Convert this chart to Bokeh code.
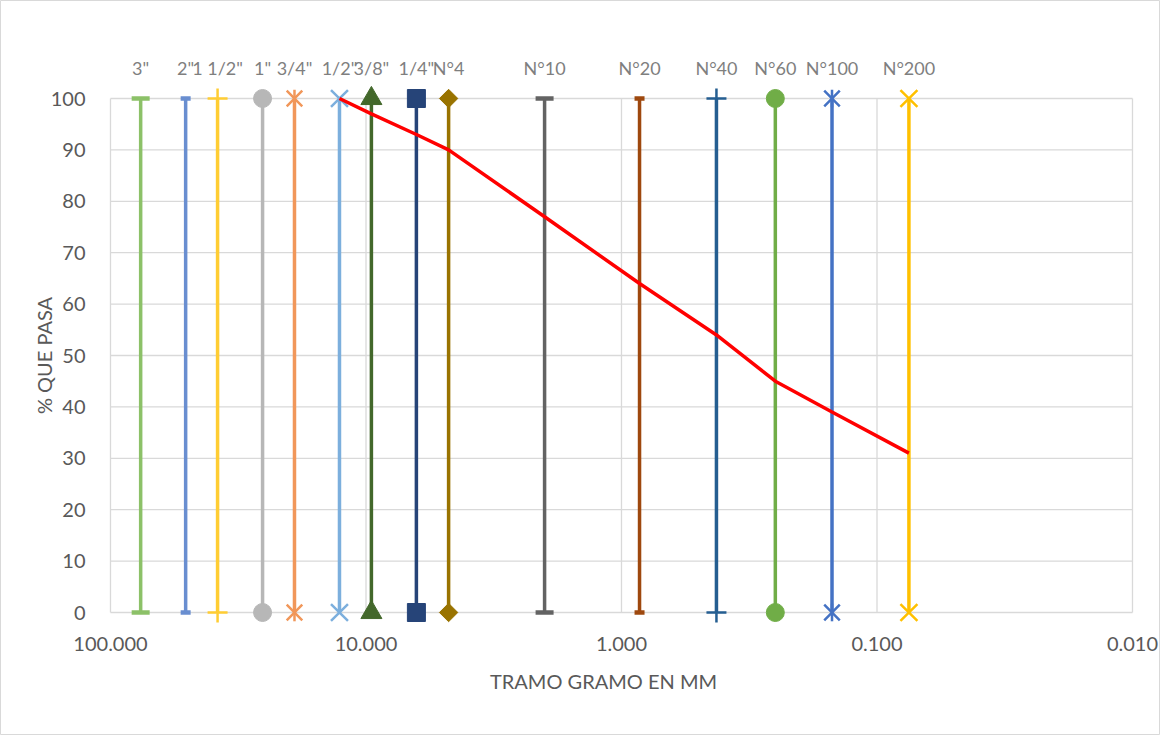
import math
from bokeh.plotting import figure
from bokeh.models import Range1d, Label
from bokeh.core.properties import value
from bokeh.embed import file_html
from bokeh.resources import INLINE

# ---------------- data ----------------
sieve_labels = ['3"', '2"', '1 1/2"', '1"', '3/4"', '1/2"', '3/8"', '1/4"',
                'N°4', 'N°10', 'N°20', 'N°40', 'N°60', 'N°100', 'N°200']
sieve_mm = [76.2, 50.8, 38.1, 25.4, 19.05, 12.7, 9.525, 6.35,
            4.75, 2.0, 0.85, 0.425, 0.25, 0.15, 0.075]
sieve_span = [0, 100]          # each sieve line goes from 0 % to 100 %

curve_mm = [12.7, 9.525, 6.35, 4.75, 2.0, 0.85, 0.425, 0.25, 0.15, 0.075]
curve_pasa = [100, 97, 93, 90, 77, 64, 54, 45, 39, 31]

x_ticks = [100, 10, 1, 0.1, 0.01]
x_tick_labels = ["100.000", "10.000", "1.000", "0.100", "0.010"]
y_ticks = [0, 10, 20, 30, 40, 50, 60, 70, 80, 90, 100]
y_tick_labels = [str(v) for v in y_ticks]

# ---------------- styles ----------------
colors = ["#8CC168", "#698ED0", "#FFCD33", "#B7B7B7", "#F1975A", "#7CAFDD",
          "#43682B", "#264478", "#997300", "#636363", "#9E480E", "#255E91",
          "#70AD47", "#4472C4", "#FFC000"]
markers = ["dash", "dash", "cross", "circle", "star6", "x", "triangle",
           "square", "rdiamond", "dash", "dash", "cross", "circle", "star6", "x"]
msizes = [18, 10, 20, 18, 22, 24, 21, 18, 13, 18, 10, 20, 18, 22, 24]

FONT = value("Lato")
TXT = "#595959"
GRID = "#D9D9D9"

# figure / plot-area pixel layout (figure coordinates)
FW, FH = 1160, 735
L, R, T, B = 110, 1132, 98, 612
dec_px = (R - L) / (math.log10(x_ticks[0]) - math.log10(x_ticks[-1]))
x_start = 10 ** (math.log10(x_ticks[0]) + L / dec_px)
x_end = 10 ** (math.log10(x_ticks[-1]) - (FW - R) / dec_px)
ypp = (y_ticks[-1] - y_ticks[0]) / (B - T)
y_end = y_ticks[-1] + T * ypp
y_start = y_ticks[0] - (FH - B) * ypp

p = figure(x_axis_type="log", x_range=Range1d(x_start, x_end),
           y_range=Range1d(y_start, y_end),
           frame_width=FW, frame_height=FH,
           min_border=0, min_border_left=0, min_border_right=0,
           min_border_top=0, min_border_bottom=0,
           x_axis_location=None, y_axis_location=None,
           output_backend="svg", toolbar_location=None)
p.grid.visible = False
p.outline_line_color = GRID
p.background_fill_color = "white"
p.border_fill_color = "white"

# gridlines
n_y = len(y_ticks)
n_x = len(x_ticks)
p.segment(x0=[x_ticks[0]] * n_y, x1=[x_ticks[-1]] * n_y, y0=y_ticks, y1=y_ticks,
          line_color=GRID, line_width=1.3)
p.segment(x0=x_ticks, x1=x_ticks, y0=[y_ticks[0]] * n_x, y1=[y_ticks[-1]] * n_x,
          line_color=GRID, line_width=1.3)

# tick labels
p.text(x=x_ticks, y=[y_ticks[0]] * n_x, text=x_tick_labels, y_offset=31,
       text_align="center", text_baseline="middle", text_font=FONT,
       text_font_size="20px", text_color=TXT)
p.text(x=[x_ticks[0]] * n_y, y=y_ticks, text=y_tick_labels, x_offset=-25,
       text_align="right", text_baseline="middle", text_font=FONT,
       text_font_size="20px", text_color=TXT)

# sieve lines
for xi, c, m, s in zip(sieve_mm, colors, markers, msizes):
    p.line([xi, xi], sieve_span, line_color=c, line_width=3.5)
    if m == "star6":
        p.scatter([xi, xi], sieve_span, marker="x", size=s, line_color=c, line_width=2.5)
        p.scatter([xi, xi], sieve_span, marker="dash", angle=math.pi / 2, size=s * 0.8,
                  line_color=c, line_width=2.5)
    elif m == "rdiamond":
        p.scatter([xi, xi], sieve_span, marker="square", angle=math.pi / 4, size=s,
                  line_color=c, line_width=1, fill_color=c)
    elif m in ("dash", "cross", "x"):
        p.scatter([xi, xi], sieve_span, marker=m, size=s, line_color=c,
                  line_width=2.5 if m != "dash" else 4.5)
    else:
        p.scatter([xi, xi], sieve_span, marker=m, size=s, line_color=c,
                  line_width=1, fill_color=c)

# grading curve
p.line(curve_mm, curve_pasa, line_color="#FF0000", line_width=3.5)

# sieve names above the plot area
p.text(x=sieve_mm, y=[sieve_span[1]] * len(sieve_mm), text=sieve_labels,
       y_offset=-31, text_align="center", text_baseline="middle",
       text_font=FONT, text_font_size="18px", text_color="#7F7F7F")

# axis titles
p.text(x=[x_ticks[0]], y=[sum(sieve_span) / 2], text=["% QUE PASA"],
       x_offset=-67, angle=math.pi / 2, text_align="center",
       text_baseline="middle", text_font=FONT, text_font_size="20px",
       text_color=TXT)
p.add_layout(Label(x=603, y=55, x_units="screen", y_units="screen",
                   text="TRAMO GRAMO EN MM", text_align="center",
                   text_baseline="middle", text_font="Lato",
                   text_font_size="20px", text_color=TXT))

open("out.html", "w").write(file_html(p, INLINE))
